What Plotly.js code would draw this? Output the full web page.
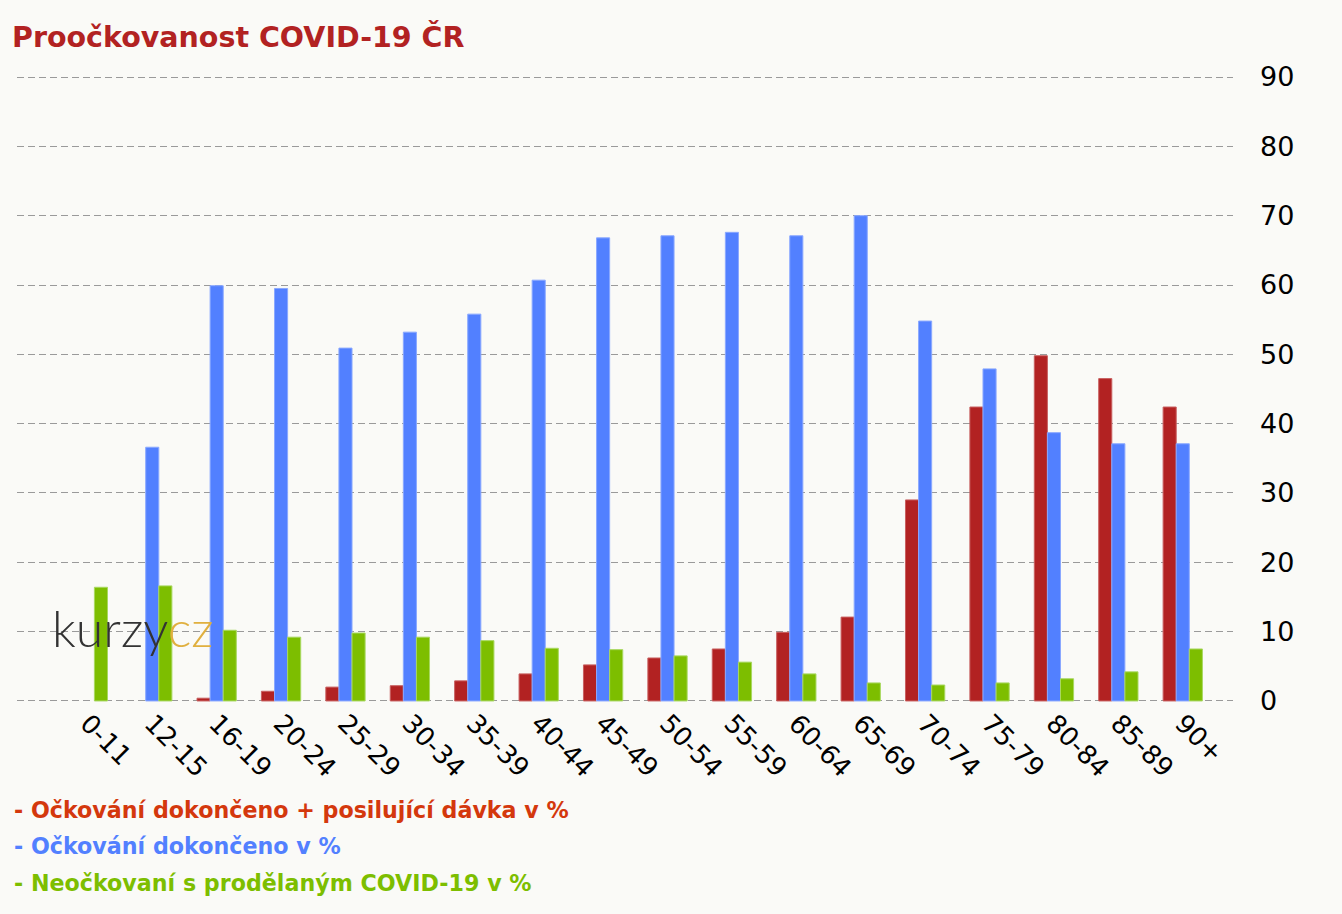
<!DOCTYPE html>
<html>
<head>
<meta charset="utf-8">
<script src="https://cdn.plot.ly/plotly-3.0.1.min.js"></script>
<style>html,body{margin:0;padding:0;background:#fafaf7;}</style>
</head>
<body>
<div id="chart" style="width:1342px;height:914px;"></div>
<script>
const categories = ["0-11","12-15","16-19","20-24","25-29","30-34","35-39","40-44","45-49","50-54","55-59","60-64","65-69","70-74","75-79","80-84","85-89","90+"];
const boosterName = "Očkování dokončeno + posilující dávka v %";
const completeName = "Očkování dokončeno v %";
const recoveredName = "Neočkovaní s prodělaným COVID-19 v %";
const boosterValues = [null, null, 0.4, 1.4, 2.0, 2.2, 2.9, 3.9, 5.2, 6.2, 7.5, 9.9, 12.1, 29.0, 42.4, 49.8, 46.5, 42.4];
const completeValues = [null, 36.6, 59.9, 59.5, 50.9, 53.2, 55.8, 60.7, 66.8, 67.1, 67.6, 67.1, 70.0, 54.8, 47.9, 38.7, 37.1, 37.1];
const recoveredValues = [16.4, 16.6, 10.2, 9.2, 9.8, 9.2, 8.7, 7.6, 7.4, 6.5, 5.6, 3.9, 2.6, 2.3, 2.6, 3.2, 4.2, 7.5];
const yTicks = [0, 10, 20, 30, 40, 50, 60, 70, 80, 90];
const titleText = "Proočkovanost COVID-19 ČR";

const FONT = "DejaVu Sans, Verdana, sans-serif";
const traces = [
  {name: boosterName, values: boosterValues, color: "#b22222", line: "#c86060"},
  {name: completeName, values: completeValues, color: "#5280ff", line: "#8aa8ff"},
  {name: recoveredName, values: recoveredValues, color: "#7dbe00", line: "#a8d860"}
].map(s => ({
  type: "bar",
  name: s.name,
  x: categories,
  y: s.values,
  marker: {color: s.color, line: {color: s.line, width: 1}},
  hoverinfo: "x+y+name"
}));

const legendColors = ["#d4380d", "#5280ff", "#7dbe00"];
const legendNames = [boosterName, completeName, recoveredName];
const legendY = [-0.173, -0.2307, -0.2884];
const annotations = legendNames.map((n, i) => ({
  text: "<b>- " + n + "</b>",
  xref: "paper", yref: "paper",
  x: -0.0041, y: legendY[i],
  xanchor: "left", yanchor: "middle",
  showarrow: false,
  font: {family: FONT, size: 22.2, color: legendColors[i]}
}));
annotations.push({
  text: 'kurzy<span style="color:#e0b040">cz</span>',
  xref: "paper", yref: "paper",
  x: 0.027, y: 0.118,
  xanchor: "left", yanchor: "middle",
  showarrow: false,
  font: {family: "Lato, sans-serif", size: 50, color: "#333333", weight: 300}
});

const layout = {
  width: 1342, height: 914,
  paper_bgcolor: "#fafaf7",
  plot_bgcolor: "#fafaf7",
  margin: {l: 17, r: 109, t: 76, b: 212},
  showlegend: false,
  barmode: "group",
  bargap: 0.39,
  bargroupgap: 0,
  title: {
    text: "<b>" + titleText + "</b>",
    xref: "container", yref: "container",
    x: 12 / 1342, xanchor: "left",
    y: 1 - 37 / 914, yanchor: "middle",
    font: {family: FONT, size: 28.5, color: "#b22222"}
  },
  xaxis: {
    type: "category",
    range: [-1.1, 17.78],
    tickangle: 45,
    tickfont: {family: FONT, size: 26, color: "#000"},
    showgrid: false, zeroline: false, showline: false,
    ticks: ""
  },
  yaxis: {
    side: "right",
    range: [-0.15, 90.15],
    tickvals: yTicks,
    ticktext: yTicks.map(String),
    tickfont: {family: FONT, size: 27, color: "#000"},
    ticklabelstandoff: 26,
    showgrid: true,
    gridcolor: "#9a9a9a",
    gridwidth: 1,
    griddash: "7px,4px",
    zeroline: false, showline: false,
    ticks: ""
  },
  annotations: annotations
};

Plotly.newPlot("chart", traces, layout, {displayModeBar: false, staticPlot: true});
</script>
</body>
</html>
